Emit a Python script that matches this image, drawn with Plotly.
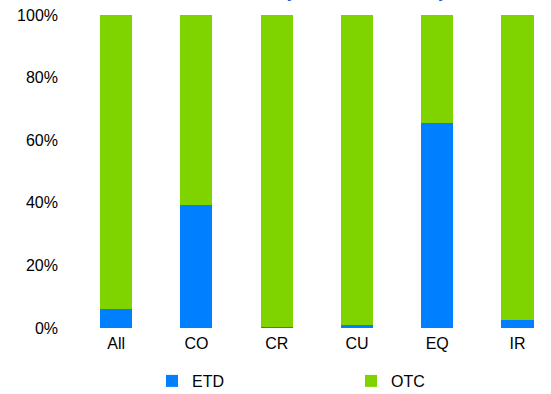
import plotly.graph_objects as go

categories = ["All", "CO", "CR", "CU", "EQ", "IR"]
etd_share = [6.0, 39.3, 0.2, 1.1, 65.5, 2.6]
otc_share = [100 - v for v in etd_share]
tick_vals = [0, 20, 40, 60, 80, 100]
tick_text = ["0%", "20%", "40%", "60%", "80%", "100%"]

BLUE = "#0080FF"
GREEN = "#7FD400"
FONT = "Liberation Sans, Arial, sans-serif"

fig = go.Figure()
fig.add_trace(go.Bar(x=categories, y=etd_share, name="ETD", marker_color=BLUE,
                     marker_line_width=0, width=0.4))
fig.add_trace(go.Bar(x=categories, y=otc_share, name="OTC", marker_color=GREEN,
                     marker_line_width=0, width=0.4))

fig.update_layout(
    width=551, height=394,
    barmode="stack",
    plot_bgcolor="white", paper_bgcolor="white",
    margin=dict(l=76, r=0, t=15, b=66, autoexpand=False),
    font=dict(family=FONT, size=16, color="#000000"),
    showlegend=True,
    legend=dict(orientation="h", x=0.16, xanchor="left", y=-0.115, yanchor="top",
                traceorder="normal",
                entrywidth=154, entrywidthmode="pixels", itemwidth=30,
                font=dict(size=16)),
    xaxis=dict(range=[-0.5, 5.417], showgrid=False, showline=False, zeroline=False,
               ticks="", tickfont=dict(size=16), automargin=False,
               ticklabelstandoff=4),
    yaxis=dict(range=[0, 100], tickvals=tick_vals, ticktext=tick_text,
               showgrid=False, showline=False, zeroline=False, ticks="",
               ticklabelstandoff=17, tickfont=dict(size=16), automargin=False),
    annotations=[dict(text="<b>Notional breakdown by market venue or by asset class</b>",
                      xref="paper", yref="paper", x=0.089, xanchor="left",
                      y=1.038, yanchor="bottom", showarrow=False,
                      font=dict(size=16, color="#2255CC", family=FONT))],
)

fig.write_html("out.html", config={"displayModeBar": False},
               post_script="document.body.style.margin='0';document.body.style.padding='0';")
